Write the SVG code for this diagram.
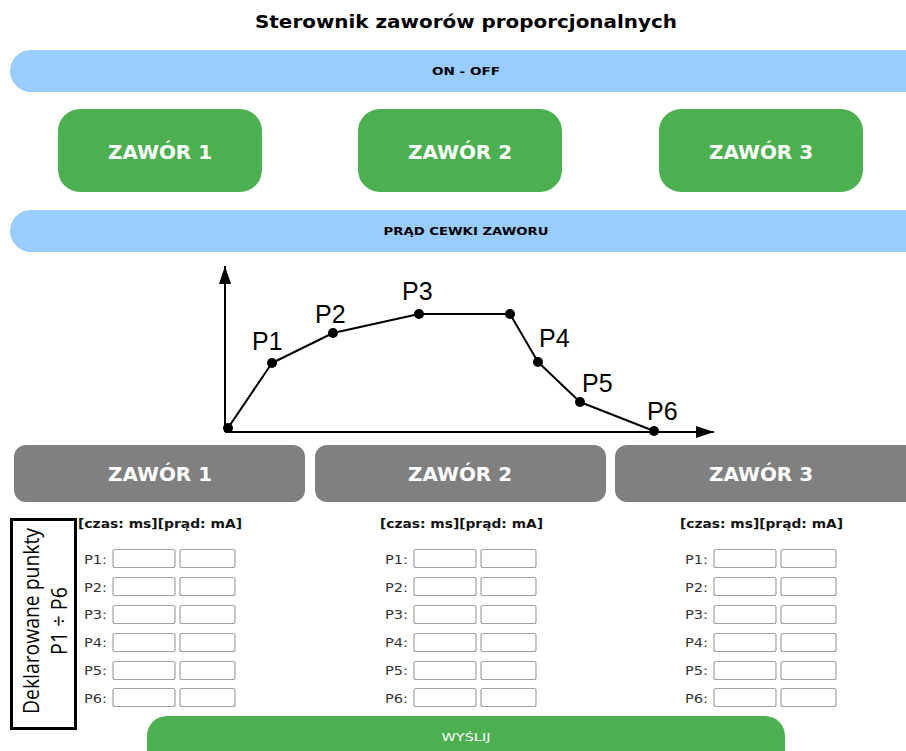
<svg xmlns="http://www.w3.org/2000/svg" width="906" height="751" viewBox="0 0 906 751">
<style>
.bar{fill:#99ccff}
.grn{fill:#4caf50}
.gry{fill:#808080}
.vb{font-family:"DejaVu Sans",Verdana,sans-serif;font-weight:bold}
.v{font-family:"DejaVu Sans",Verdana,sans-serif}
.t18{font-size:18px;fill:#000}
.t11{font-size:11px;fill:#000}
.btn{font-size:20px;fill:#fff}
.hdr{font-size:12px;fill:#111}
.lbl{font-size:13px;fill:#333}
.inp{fill:#fff;stroke:#a0a0a8;stroke-width:1.2}
.ax{stroke:#000;stroke-width:2;fill:none}
.pl{font-family:"Liberation Sans",Arial,sans-serif;font-size:25px;fill:#000}
.os{font-family:"Open Sans","Noto Sans",sans-serif;font-size:21px;fill:#000}
</style>
<defs>
<g id="rows">
<text x="0" y="564" class="v lbl" textLength="23" lengthAdjust="spacingAndGlyphs">P1:</text>
<text x="0" y="592" class="v lbl" textLength="23" lengthAdjust="spacingAndGlyphs">P2:</text>
<text x="0" y="619" class="v lbl" textLength="23" lengthAdjust="spacingAndGlyphs">P3:</text>
<text x="0" y="647" class="v lbl" textLength="23" lengthAdjust="spacingAndGlyphs">P4:</text>
<text x="0" y="675" class="v lbl" textLength="23" lengthAdjust="spacingAndGlyphs">P5:</text>
<text x="0" y="703" class="v lbl" textLength="23" lengthAdjust="spacingAndGlyphs">P6:</text>
<rect x="29" y="549.5" width="62" height="18" rx="2" class="inp"/>
<rect x="96" y="549.5" width="55" height="18" rx="2" class="inp"/>
<rect x="29" y="577.5" width="62" height="18" rx="2" class="inp"/>
<rect x="96" y="577.5" width="55" height="18" rx="2" class="inp"/>
<rect x="29" y="605.5" width="62" height="18" rx="2" class="inp"/>
<rect x="96" y="605.5" width="55" height="18" rx="2" class="inp"/>
<rect x="29" y="633.5" width="62" height="18" rx="2" class="inp"/>
<rect x="96" y="633.5" width="55" height="18" rx="2" class="inp"/>
<rect x="29" y="661.5" width="62" height="18" rx="2" class="inp"/>
<rect x="96" y="661.5" width="55" height="18" rx="2" class="inp"/>
<rect x="29" y="688.5" width="62" height="18" rx="2" class="inp"/>
<rect x="96" y="688.5" width="55" height="18" rx="2" class="inp"/>
</g>
<marker id="arr" viewBox="0 0 18 12" refX="18" refY="6" markerWidth="18" markerHeight="12" markerUnits="userSpaceOnUse" orient="auto"><path d="M0,0 L18,6 L0,12 z" fill="#000"/></marker>
</defs>
<rect width="906" height="751" fill="#fff"/>
<text x="466" y="28" text-anchor="middle" class="vb t18" textLength="422" lengthAdjust="spacingAndGlyphs">Sterownik zaworów proporcjonalnych</text>

<g id="onoff">
<rect x="10" y="50" width="940" height="42" rx="21" class="bar"/>
<text x="466" y="75" text-anchor="middle" class="vb t11" textLength="68" lengthAdjust="spacingAndGlyphs">ON - OFF</text>
</g>

<g id="zawor1-on">
<rect x="58" y="109" width="204" height="83" rx="22" class="grn"/>
<text x="160" y="159" text-anchor="middle" class="vb btn" textLength="104" lengthAdjust="spacingAndGlyphs">ZAWÓR 1</text>
</g>
<g id="zawor2-on">
<rect x="358" y="109" width="204" height="83" rx="22" class="grn"/>
<text x="460" y="159" text-anchor="middle" class="vb btn" textLength="104" lengthAdjust="spacingAndGlyphs">ZAWÓR 2</text>
</g>
<g id="zawor3-on">
<rect x="659" y="109" width="204" height="83" rx="22" class="grn"/>
<text x="761" y="159" text-anchor="middle" class="vb btn" textLength="104" lengthAdjust="spacingAndGlyphs">ZAWÓR 3</text>
</g>

<g id="prad">
<rect x="10" y="210" width="940" height="42" rx="21" class="bar"/>
<text x="466" y="235" text-anchor="middle" class="vb t11" textLength="165" lengthAdjust="spacingAndGlyphs">PRĄD CEWKI ZAWORU</text>
</g>

<g id="connectors">
<line x1="225" y1="432" x2="225" y2="266" class="ax" marker-end="url(#arr)"/>
<line x1="225" y1="432" x2="714" y2="432" class="ax" marker-end="url(#arr)"/>
<polyline points="228,428 272,363 333,333 419,314 510,314 538,362 580,402 654,431" class="ax" stroke-linejoin="round"/>
<g fill="#000">
<circle cx="228" cy="428" r="5"/>
<circle cx="272" cy="363" r="5"/>
<circle cx="333" cy="333" r="5"/>
<circle cx="419" cy="314" r="5"/>
<circle cx="510" cy="314" r="5"/>
<circle cx="538" cy="362" r="5"/>
<circle cx="580" cy="402" r="5"/>
<circle cx="654" cy="431" r="5"/>
</g>
<text x="252" y="350" class="pl">P1</text>
<text x="315" y="323" class="pl">P2</text>
<text x="402" y="300" class="pl">P3</text>
<text x="539" y="347" class="pl">P4</text>
<text x="582" y="392" class="pl">P5</text>
<text x="647" y="420" class="pl">P6</text>
</g>

<g id="zawor1-cfg">
<rect x="14" y="445" width="291" height="57" rx="12" class="gry"/>
<text x="160" y="481" text-anchor="middle" class="vb btn" textLength="104" lengthAdjust="spacingAndGlyphs">ZAWÓR 1</text>
</g>
<g id="zawor2-cfg">
<rect x="315" y="445" width="291" height="57" rx="12" class="gry"/>
<text x="460" y="481" text-anchor="middle" class="vb btn" textLength="104" lengthAdjust="spacingAndGlyphs">ZAWÓR 2</text>
</g>
<g id="zawor3-cfg">
<rect x="615" y="445" width="320" height="57" rx="12" class="gry"/>
<text x="761" y="481" text-anchor="middle" class="vb btn" textLength="104" lengthAdjust="spacingAndGlyphs">ZAWÓR 3</text>
</g>

<g id="legend">
<rect x="11.5" y="519.5" width="64" height="209" fill="#fff" stroke="#000" stroke-width="3"/>
<text transform="translate(39,621) rotate(-90)" text-anchor="middle" class="os" textLength="186" lengthAdjust="spacingAndGlyphs">Deklarowane punkty</text>
<text transform="translate(67,621) rotate(-90)" text-anchor="middle" class="os" textLength="68" lengthAdjust="spacingAndGlyphs">P1 ÷ P6</text>
</g>

<g id="form1">
<text x="78" y="528" class="vb hdr" textLength="164" lengthAdjust="spacingAndGlyphs">[czas: ms][prąd: mA]</text>
<use href="#rows" x="84"/>
</g>
<g id="form2">
<text x="380" y="528" class="vb hdr" textLength="163" lengthAdjust="spacingAndGlyphs">[czas: ms][prąd: mA]</text>
<use href="#rows" x="385"/>
</g>
<g id="form3">
<text x="680" y="528" class="vb hdr" textLength="163" lengthAdjust="spacingAndGlyphs">[czas: ms][prąd: mA]</text>
<use href="#rows" x="685"/>
</g>

<g id="wyslij">
<rect x="147" y="716" width="638" height="60" rx="20" class="grn"/>
<text x="466" y="741" text-anchor="middle" class="v" font-size="11" fill="#fff" textLength="49" lengthAdjust="spacingAndGlyphs">WYŚLIJ</text>
</g>
</svg>
